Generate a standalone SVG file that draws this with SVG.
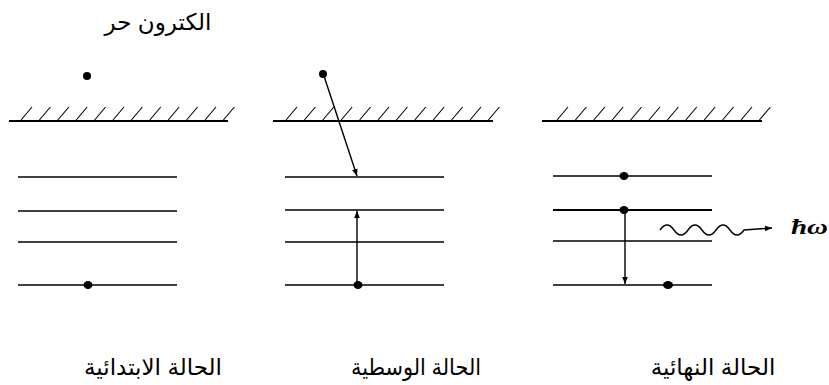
<svg xmlns="http://www.w3.org/2000/svg" width="829" height="385" viewBox="0 0 829 385">
<style>
.lvl{stroke:#000;stroke-width:1.6;fill:none}
.gnd{stroke:#000;stroke-width:2.2;fill:none}
.hat{stroke:#000;stroke-width:1.1;fill:none}
.arr{stroke:#000;stroke-width:1.4;fill:none}
.dot{fill:#000}
.lbl{font-family:"Liberation Sans","DejaVu Sans","Noto Sans",sans-serif;font-size:23px;fill:#000}
.sym{font-family:"Liberation Serif",serif;font-style:italic;font-weight:bold;font-size:21px;fill:#000}
</style>
<defs>
<marker id="ah" viewBox="0 0 10 10" refX="10" refY="5" markerWidth="7" markerHeight="7" orient="auto-start-reverse" markerUnits="userSpaceOnUse">
<path d="M0,1 L10,5 L0,9 Z" fill="#000"/>
</marker>
<g id="hatch">
<path class="hat" d="M0,120 l11,-13 M18.4,120 l11,-13 M36.8,120 l11,-13 M55.2,120 l11,-13 M73.6,120 l11,-13 M92,120 l11,-13 M110.4,120 l11,-13 M128.8,120 l11,-13 M147.2,120 l11,-13 M165.6,120 l11,-13 M184,120 l11,-13 M202.4,120 l11,-13"/>
</g>
</defs>

<g id="label-free-electron"><text class="lbl" x="158" y="30" text-anchor="middle" direction="rtl">الكترون حر</text></g>

<g id="initial-state">
<use href="#hatch" x="21"/>
<line class="gnd" x1="9" y1="121" x2="228" y2="121"/>
<circle class="dot" cx="87" cy="76" r="4"/>
<line class="lvl" x1="18" y1="177" x2="177" y2="177"/>
<line class="lvl" x1="18" y1="211" x2="177" y2="211"/>
<line class="lvl" x1="18" y1="242" x2="177" y2="242"/>
<line class="lvl" x1="18" y1="285" x2="177" y2="285"/>
<ellipse class="dot" cx="88" cy="285" rx="4.5" ry="4"/>
<text class="lbl" x="153" y="375" text-anchor="middle" direction="rtl">الحالة الابتدائية</text>
</g>

<g id="intermediate-state">
<use href="#hatch" x="286"/>
<line class="gnd" x1="273" y1="121" x2="493" y2="121"/>
<circle class="dot" cx="323" cy="74" r="4"/>
<line class="lvl" x1="285" y1="177" x2="444" y2="177"/>
<line class="lvl" x1="285" y1="210" x2="444" y2="210"/>
<line class="lvl" x1="285" y1="242" x2="444" y2="242"/>
<line class="lvl" x1="285" y1="285" x2="444" y2="285"/>
<ellipse class="dot" cx="358" cy="285" rx="4.5" ry="4"/>
<text class="lbl" x="416" y="375" text-anchor="middle" direction="rtl" textLength="130" lengthAdjust="spacingAndGlyphs">الحالة الوسطية</text>
</g>

<g id="final-state">
<use href="#hatch" x="557"/>
<line class="gnd" x1="542" y1="121" x2="762" y2="121"/>
<line class="lvl" x1="553" y1="176" x2="712" y2="176"/>
<line class="gnd" x1="553" y1="210" x2="712" y2="210"/>
<line class="lvl" x1="553" y1="241" x2="712" y2="241"/>
<line class="lvl" x1="553" y1="285" x2="712" y2="285"/>
<ellipse class="dot" cx="624" cy="176" rx="4.5" ry="4"/>
<ellipse class="dot" cx="624" cy="210" rx="4.5" ry="4"/>
<ellipse class="dot" cx="668" cy="285" rx="5" ry="4"/>
<text class="sym" x="791" y="234" textLength="37" lengthAdjust="spacingAndGlyphs">ħω</text>
<text class="lbl" x="713" y="375" text-anchor="middle" direction="rtl">الحالة النهائية</text>
</g>

<g id="connectors">
<line class="arr" x1="324" y1="76" x2="357" y2="176" marker-end="url(#ah)"/>
<line class="arr" x1="357" y1="283" x2="357" y2="211" marker-end="url(#ah)"/>
<line class="arr" x1="625" y1="212" x2="625" y2="284" marker-end="url(#ah)"/>
<path class="arr" d="M660,230 q7,-10 14,0 t14,0 t14,0 t14,0 t14,0 t14,0 L772,228" marker-end="url(#ah)"/>
</g>
</svg>
